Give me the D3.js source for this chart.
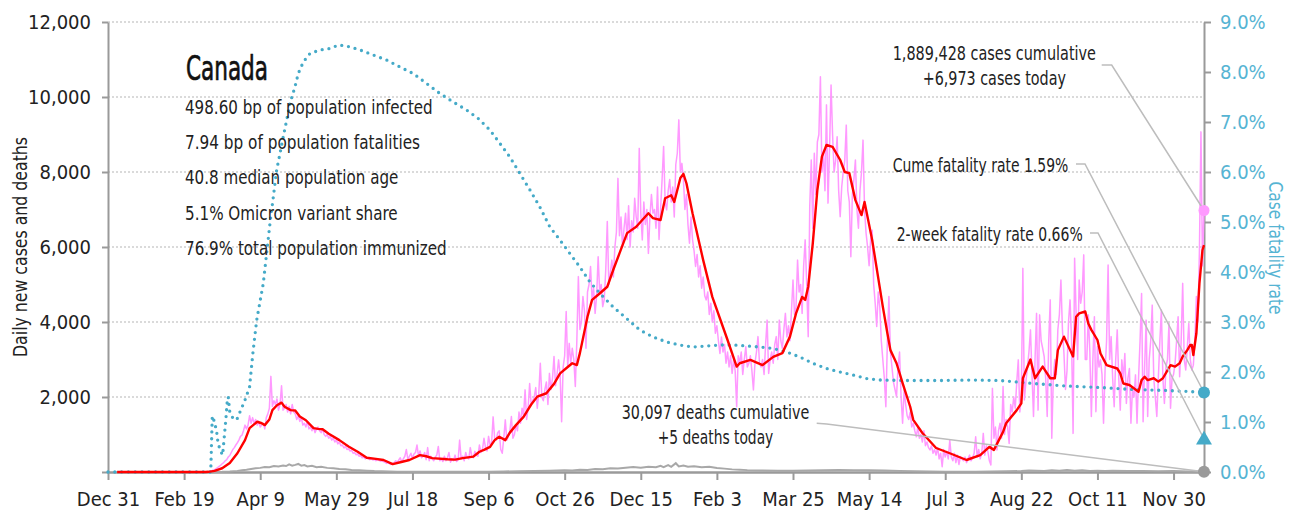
<!DOCTYPE html>
<html>
<head>
<meta charset="utf-8">
<script src="https://cdn.jsdelivr.net/npm/d3@7"></script>
<style>
  html, body { margin: 0; padding: 0; background: #fff; }
  svg { display: block; }
  text { font-family: "Liberation Sans Narrow", "Arial Narrow", "DejaVu Sans Condensed", sans-serif; }
</style>
</head>
<body>
<svg id="chart" width="1293" height="512"></svg>
<script>
// ---- Data (day offsets count from Dec 31, 2019) ----
const tickDates = ["2019-12-31","2020-02-19","2020-04-09","2020-05-29","2020-07-18","2020-09-06",
  "2020-10-26","2020-12-15","2021-02-03","2021-03-25","2021-05-14","2021-07-03","2021-08-22",
  "2021-10-11","2021-11-30"];
const lastDay = 720;
const leftTicks = [0, 2000, 4000, 6000, 8000, 10000, 12000];
const rightTicks = [0, 1, 2, 3, 4, 5, 6, 7, 8, 9];

// daily new cases, one value per day from the given start day
const casesQuietStart = 6;
const casesQuiet = [0,0,0,0,0,0,0,0,0,0,0,0,0,0,0,0,0,0,0,0,0,0,0,0,0,0,0,0,0,0,0,0,0,0,0,0,0,0,0,0,0,0,0,0,0,0,0,0,0,0,0,0,0,0,0,0,0,0,0,0,0];
const casesWave1Start = 67;
const casesWave1 = [10,30,50,60,90,120,150,180,220,250,300,330,400,440,520,600,650,720,780,850,950,980,1100,1250,1150,1250,1500,1300,1450,1300,1400,1250,1350,1200,1250,1300,1150,1450,1550,1700,2550,1750,1900,1800,1950,1650,1800,2300,1650,1700,1800,1600,1750,1550,1800,1600,1550,1400,1500,1350,1450,1250,1300,1200,1350,1150,1200,1100,1200,1050,1150,1200,1100,1050,1150,1000,950,1000,900,950,850,900,800,850,750,800,700,720,640,680,600,620,560,580,500,520,460,480,420,440,380,400,350,380];
const casesSummer20Start = 171;
const casesSummer20 = [360,330,350,320,340,300,330,310,290,300,280,260,230,250,220,200,230,250,300,250,320,380,260,350,420,600,330,420,500,360,480,520,720,420,560,380,420,520,330,650,300,420,350,300,400,450,680,300,350,280,420,300,380,520,260,350,300,450,280,320,850,350,420,300,520,380,350,650,420,380,550,450,420,720,520,600,900,650,560,950,720,780,1470,900,850,1050,1100,600,500,900];
const casesWave2Start = 261;
const casesWave2 = [1390,850,950,1100,1480,900,1000,1250,1100,1600,1300,1700,1500,2190,1400,1700,2360,1800,1900,2000,2250,1700,2100,2900,2000,1900,2200,2400,1800,2630,2200,2500,3080,2300,2600,2990,2600,1340,2800,3100,4280,2800,3430,2900,3300,3000,2280,3500,5210,3800,4000,4680,4300,3300,4800,5000,5480,4600,4900,4230,4700,5740,4800,5000,4410,4600,5400,6680,5000,5300,5650,5200,6000,6400,7830,6300,6800,6010,6500,6900,6200,7100,6000,6700,6400,7300,6800,6500,8630,6900,6190,7200,6600,7000,5830,6800,7400,6900,7000,6500,7600,6200,7000,7800,8680,7200,6990,7500,7800,7200,7600,6800,8200,8500,9390,8000,8230,7800,7000,7400,6600,6100,6800,6200,5900,5480,5800,5200,5500,4900,5200,4700,4590,4800,4200,4500,4000,4300,3700,3900,3500,3160,3600,3200,3400,2900,3200,2800,3100,2630,3000,2700,1740,3100,2900];
const casesWave3Start = 416;
const casesWave3 = [3200,2600,3000,3340,2800,2900,3100,2700,2190,2900,3200,3610,2900,2800,3000,2600,3400,4050,2630,3000,3200,2900,3400,3610,3000,4050,3500,3300,3800,4230,3600,3900,3500,4300,5120,4200,4400,5650,4800,5000,4230,5500,6190,5000,3610,7080,8320,6500,8500,7400,8800,9000,10540,8000,8500,7500,9790,7170,8600,10320,9000,8000,8300,8940,7500,6810,7600,8000,8300,9250,7500,7200,5740,7400,7800,8320,7000,6500,7500,8000,8850,7000,6370,6000,5500,6200,6450,5000,4500,3880,4800,4410,3500,3000,2500,1740,3500,4680,3200,2800,2400,2200,2010,2800,3200,2000,1300,2200,1800,1500,1400,1600,1200,1300,1100,940,1200,900,1000,800,1100,700,800,650,590];
const casesSummer21Start = 541;
const casesSummer21 = [700,500,600,450,650,350,500,140,600,400,550,350,850,400,300,500,250,450,200,410,350,300,400,250,350,450,300,380,500,940,400,600,350,500,1030,450,700,550,300,190];
const casesWave4Start = 581;
const casesWave4 = [2230,900,1200,590,1100,1300,900,2280,1000,1400,1200,760,1800,1600,2000,1700,2400,2990,1600,2000,5430,1920,2400,2800,3200,3790,2600,1480,3000,4230,1650,4190,3500,3300,3080,2500,1480,3500,4590,900,2500,3000,2600,3800,4200,5120,3800,3160,2200,2700,4000,4590,3500,1030,5700,4200,3000,5120,4500,4800,5790,3000,3000,4190,3200,1480,3000,4140,1610,3340,2800,2990,2600,1300,2700,3500,5520,3000,3610,2500,1740,3000,3790,2500,1650,2990,2500,3160,1830,2500,2760,1300,2200,2000,2590,1300,2500,3500,4760,1340,2800,4050,1480,3000,3500,4450,2500,2000,1480,2500,3500,4320,2500,1830,2800,3000,3960,1700,2500,2600,2900,3500,4140,2540,3500,5030,3000,2720,3300,3960,3000,2720,2850,3500,4680,4000,5920,9070,5500,6973];

// 7-day average of new cases, [day, value]
const casesAvg = [[6,0],[64,0],[66,5],[70,30],[75,100],[80,240],[85,500],[90,850],[93,1170],[98,1340],[101,1300],[103,1250],[106,1400],[108,1650],[111,1780],[114,1850],[116,1740],[120,1650],[123,1640],[126,1480],[130,1380],[135,1170],[138,1150],[141,1140],[145,1020],[152,850],[158,680],[164,540],[170,380],[176,350],[181,320],[187,210],[192,260],[198,320],[205,450],[209,420],[213,370],[223,340],[228,330],[233,370],[240,410],[244,540],[247,590],[251,670],[254,850],[257,940],[261,850],[264,1050],[268,1250],[273,1470],[278,1800],[282,2010],[288,2100],[293,2350],[297,2630],[302,2800],[305,2900],[308,2850],[310,3170],[315,4140],[318,4590],[323,4760],[328,4940],[332,5400],[336,5830],[341,6370],[347,6540],[355,6900],[358,6770],[363,6720],[366,7300],[370,7380],[372,7200],[376,7840],[378,7950],[380,7700],[384,6900],[391,5650],[397,4670],[407,3520],[413,2810],[415,2900],[422,2990],[430,2850],[437,3070],[443,3170],[448,3610],[452,4230],[456,4670],[458,4590],[460,4940],[463,6100],[466,7520],[469,8410],[472,8720],[476,8670],[481,8320],[484,8000],[487,7970],[491,7250],[495,6850],[497,7200],[502,6190],[509,4410],[512,3700],[514,3250],[518,2900],[520,2640],[522,2370],[527,1740],[529,1390],[535,1040],[544,640],[553,500],[564,320],[573,450],[579,670],[582,590],[588,1070],[590,1300],[597,1650],[600,1830],[601,2500],[606,3000],[609,2500],[614,2810],[619,2500],[622,2500],[624,3250],[628,3610],[630,3430],[634,3080],[636,4140],[638,4230],[642,4280],[644,3960],[646,3790],[650,3520],[652,3160],[656,2850],[663,2760],[665,2630],[667,2360],[671,2320],[677,2140],[679,2450],[681,2540],[683,2450],[687,2500],[690,2410],[693,2500],[698,2850],[701,2810],[704,2900],[706,3080],[709,3250],[711,3390],[712,3390],[713,3120],[715,3700],[717,5030],[719,5920],[720,6050]];

// daily new deaths, [day, value]
const deathsDaily = [[6,0],[70,0],[75,5],[80,15],[85,30],[88,45],[91,60],[94,80],[97,100],[100,110],[103,130],[106,125],[109,160],[112,150],[115,175],[117,160],[119,205],[121,170],[123,190],[125,215],[127,170],[129,185],[131,150],[134,165],[137,130],[140,140],[144,110],[148,100],[152,80],[156,75],[160,55],[165,45],[170,35],[175,25],[180,20],[190,10],[200,8],[220,6],[240,5],[250,8],[260,15],[270,20],[280,25],[290,35],[300,45],[305,40],[310,60],[315,55],[320,80],[325,75],[330,100],[335,95],[340,115],[345,130],[350,115],[355,140],[360,125],[363,165],[365,130],[368,185],[370,140],[373,235],[375,150],[378,175],[381,140],[385,155],[390,125],[395,140],[400,105],[405,90],[410,70],[415,60],[420,50],[430,40],[440,35],[450,35],[460,40],[470,45],[480,55],[490,50],[500,45],[510,40],[520,30],[530,20],[540,15],[550,10],[560,8],[570,10],[580,15],[590,20],[600,25],[605,40],[610,35],[615,30],[620,45],[625,35],[630,50],[635,35],[640,45],[645,30],[650,35],[655,25],[660,35],[670,25],[680,25],[690,20],[700,25],[710,15],[715,20],[720,5]];

// cumulative case fatality rate in percent, [day, value]
const fatalityRate = [[0,0],[67.5,0],[68.5,1.12],[70,1.0],[71.4,0.8],[72.2,0.6],[73.6,0.44],[75.3,0.34],[76.2,0.64],[77.5,1.08],[78.4,1.44],[79,1.5],[80,1.2],[82,1.08],[84.5,1.04],[86.7,1.2],[90,1.44],[93,1.7],[94.4,2.14],[95.4,2.44],[97.7,3.04],[102,3.77],[104.2,4.37],[106.4,4.97],[108.6,5.5],[110.8,6.04],[113,6.37],[115.1,6.7],[117.4,7.04],[119.5,7.37],[122.8,7.7],[125,7.97],[128.3,8.2],[132.7,8.37],[139.2,8.44],[145.8,8.47],[151.3,8.54],[156.8,8.52],[165.6,8.44],[174.2,8.34],[183,8.24],[191.8,8.1],[200.5,7.97],[209.3,7.77],[218,7.57],[226.8,7.4],[235.6,7.24],[243.2,7.07],[250.9,6.84],[257.5,6.57],[264,6.3],[270.6,5.97],[277.2,5.64],[283.7,5.3],[290.3,4.9],[296.9,4.64],[303.4,4.37],[310,4.1],[316.6,3.8],[323.2,3.57],[331.9,3.3],[340.7,3.07],[349.4,2.84],[358.2,2.7],[367,2.6],[375.7,2.54],[384.4,2.5],[393.2,2.52],[402,2.54],[410.7,2.54],[428.2,2.5],[437,2.47],[445.8,2.4],[454.5,2.3],[463.3,2.17],[472.1,2.07],[480.8,2.0],[489.5,1.94],[498.3,1.87],[507,1.84],[524.6,1.83],[546.5,1.83],[568.4,1.84],[585.9,1.83],[607.8,1.77],[629.7,1.72],[651.6,1.69],[673.4,1.65],[695.4,1.63],[710,1.61],[720,1.59]];

// headline figures
const casesToday = 6973;
const deathsToday = 5;
const cumeFatality = 1.59;
const twoWeekFatality = 0.66;
const statLines = ["498.60 bp of population infected", "7.94 bp of population fatalities",
  "40.8 median population age", "5.1% Omicron variant share", "76.9% total population immunized"];

// ---- Setup ----
const day0 = Date.UTC(2019, 11, 31);
const toDate = d => new Date(day0 + d * 864e5);
const fromSegment = (start, vals) => vals.map((v, i) => [start + i, v]);
const casesDaily = [].concat(
  fromSegment(casesQuietStart, casesQuiet),
  fromSegment(casesWave1Start, casesWave1),
  fromSegment(casesSummer20Start, casesSummer20),
  fromSegment(casesWave2Start, casesWave2),
  fromSegment(casesWave3Start, casesWave3),
  fromSegment(casesSummer21Start, casesSummer21),
  fromSegment(casesWave4Start, casesWave4)
);

const svg = d3.select("#chart");
const FONT = '"Liberation Sans Narrow", "Arial Narrow", "DejaVu Sans Condensed", sans-serif';
const INK = "#222";
const BLUE = "#45aac8";
const BLUE_TEXT = "#56b4d3";
const PINK = "#ff99ff";
const GRAY = "#9a9a9a";

const x = d3.scaleUtc().domain([toDate(0), toDate(lastDay)]).range([108, 1204]);
const yL = d3.scaleLinear().domain([0, 12000]).range([472, 22]);
const yR = d3.scaleLinear().domain([0, 9]).range([472, 22]);

// gridlines
svg.append("g").selectAll("line").data(leftTicks.filter(t => t > 0)).join("line")
  .attr("x1", x.range()[0]).attr("x2", x.range()[1])
  .attr("y1", d => yL(d)).attr("y2", d => yL(d))
  .attr("stroke", "#b5b5b5").attr("stroke-width", 1).attr("stroke-dasharray", "2,2");

// axes
function styleAxis(g, color) {
  g.attr("font-family", FONT).attr("font-size", 20);
  g.select(".domain").attr("stroke", GRAY).attr("stroke-width", 2);
  g.selectAll(".tick line").attr("stroke", GRAY).attr("stroke-width", 2);
  g.selectAll(".tick text").attr("fill", color);
}
svg.append("g").attr("transform", "translate(108,0)")
  .call(d3.axisLeft(yL).tickValues(leftTicks).tickSize(6).tickSizeOuter(0).tickPadding(11)
    .tickFormat(d => d === 0 ? "" : d3.format(",")(d)))
  .call(g => styleAxis(g, INK));
svg.append("g").attr("transform", "translate(1204,0)")
  .call(d3.axisRight(yR).tickValues(rightTicks).tickSize(7).tickSizeOuter(0).tickPadding(9)
    .tickFormat(d => d.toFixed(1) + "%"))
  .call(g => styleAxis(g, BLUE_TEXT));
svg.append("g").attr("transform", "translate(0,472)")
  .call(d3.axisBottom(x).tickValues(tickDates.map(s => new Date(s + "T00:00:00Z")))
    .tickSize(8).tickSizeOuter(0).tickPadding(12).tickFormat(d3.utcFormat("%b %-d")))
  .call(g => { styleAxis(g, INK); g.select(".domain").attr("stroke-width", 2.5); });

// series
const lineL = d3.line().x(d => x(toDate(d[0]))).y(d => yL(d[1]));
const lineR = d3.line().x(d => x(toDate(d[0]))).y(d => yR(d[1]));

svg.append("path").datum(casesDaily).attr("d", lineL)
  .attr("fill", "none").attr("stroke", PINK).attr("stroke-width", 1.5).attr("stroke-linejoin", "round");
svg.append("path").datum(deathsDaily).attr("d", lineL)
  .attr("fill", "none").attr("stroke", "#a8a8a8").attr("stroke-width", 2);
svg.append("path").datum(fatalityRate).attr("d", lineR)
  .attr("fill", "none").attr("stroke", BLUE).attr("stroke-width", 3.3)
  .attr("stroke-linecap", "round").attr("stroke-dasharray", "0,6.8");
svg.append("path").datum(casesAvg).attr("d", lineL)
  .attr("fill", "none").attr("stroke", "#ff0000").attr("stroke-width", 2.4).attr("stroke-linejoin", "round");

// axis titles
svg.append("text").attr("transform", "translate(26.5,247) rotate(-90)")
  .attr("text-anchor", "middle").attr("font-size", 19).attr("fill", INK)
  .attr("textLength", 220).attr("lengthAdjust", "spacingAndGlyphs")
  .text("Daily new cases and deaths");
svg.append("text").attr("transform", "translate(1268.5,248) rotate(90)")
  .attr("text-anchor", "middle").attr("font-size", 20).attr("fill", BLUE_TEXT)
  .attr("textLength", 133).attr("lengthAdjust", "spacingAndGlyphs")
  .text("Case fatality rate");

// title block
svg.append("text").attr("x", 186).attr("y", 79.5).attr("font-size", 34)
  .attr("fill", "#111").attr("stroke", "#111").attr("stroke-width", 0.7)
  .attr("textLength", 82).attr("lengthAdjust", "spacingAndGlyphs").text("Canada");
const statWidths = [247.7, 235, 213.3, 212.7, 261.7];
svg.append("g").selectAll("text").data(statLines).join("text")
  .attr("x", 185).attr("y", (d, i) => 114 + i * 35.2)
  .attr("font-size", 19).attr("fill", INK)
  .attr("textLength", (d, i) => statWidths[i]).attr("lengthAdjust", "spacingAndGlyphs")
  .text(d => d);

// callouts
const fmt = d3.format(",");
const callouts = [
  { lines: [fmt(1889428) + " cases cumulative", "+" + fmt(casesToday) + " cases today"], cx: 994.3, y: 60, w: [203.3, 143.3],
    path: [[1101.7, 65], [1111.7, 65], [x(toDate(lastDay)), yL(casesToday)]] },
  { lines: ["Cume fatality rate " + cumeFatality.toFixed(2) + "%"], cx: 980.5, y: 171.7, w: [175.6],
    path: [[1076, 164], [1085, 164], [x(toDate(lastDay)), yR(cumeFatality)]] },
  { lines: ["2-week fatality rate " + twoWeekFatality.toFixed(2) + "%"], cx: 989.7, y: 240.7, w: [186],
    path: [[1090, 233], [1098, 233], [x(toDate(lastDay)), yR(twoWeekFatality)]] },
  { lines: [fmt(30097) + " deaths cumulative", "+" + deathsToday + " deaths today"], cx: 715.5, y: 419.3, w: [187.6, 115.6],
    path: [[816.7, 423.3], [826.7, 424], [x(toDate(lastDay)), yL(deathsToday)]] }
];
callouts.forEach(c => {
  svg.append("path").attr("d", d3.line()(c.path))
    .attr("fill", "none").attr("stroke", "#bdbdbd").attr("stroke-width", 1.5);
  c.lines.forEach((t, i) => {
    svg.append("text").attr("x", c.cx).attr("y", c.y + i * 25).attr("text-anchor", "middle")
      .attr("font-size", 19).attr("fill", INK)
      .attr("textLength", c.w[i]).attr("lengthAdjust", "spacingAndGlyphs").text(t);
  });
});

// end-of-series markers
const xe = x(toDate(lastDay));
svg.append("circle").attr("cx", xe).attr("cy", yL(casesToday)).attr("r", 5.5).attr("fill", PINK);
svg.append("circle").attr("cx", xe).attr("cy", yR(cumeFatality)).attr("r", 6).attr("fill", BLUE);
svg.append("path").attr("d", d3.symbol(d3.symbolTriangle, 110)())
  .attr("transform", `translate(${xe},${yR(twoWeekFatality) + 1})`).attr("fill", BLUE);
svg.append("circle").attr("cx", xe).attr("cy", yL(deathsToday)).attr("r", 6).attr("fill", GRAY);
</script>
</body>
</html>
